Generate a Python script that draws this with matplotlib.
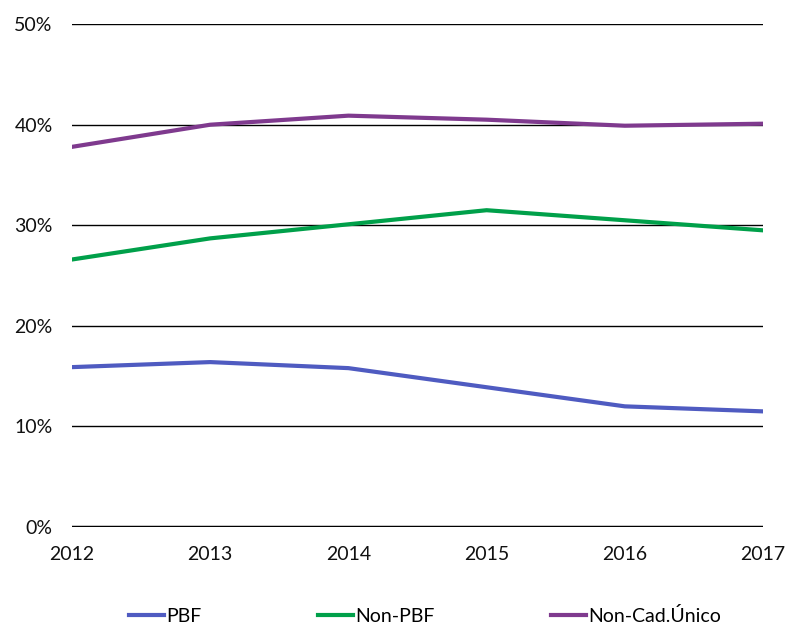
import matplotlib.pyplot as plt
from matplotlib.ticker import PercentFormatter

# --------------------------------------------------------
# DATA
# --------------------------------------------------------
years = [2012, 2013, 2014, 2015, 2016, 2017]
pbf = [15.9, 16.4, 15.8, 13.9, 12.0, 11.5]
non_pbf = [26.6, 28.7, 30.1, 31.5, 30.5, 29.5]
non_cad = [37.8, 40.0, 40.9, 40.5, 39.9, 40.1]

plt.rcParams["font.family"] = ["Lato", "DejaVu Sans"]

fig = plt.figure(figsize=(7.87, 6.35), dpi=100)
ax = fig.add_axes([0.0915, 0.170, 0.878, 0.792])

ax.plot(years, pbf, color="#4F5BC1", lw=3, label="PBF")
ax.plot(years, non_pbf, color="#00A04A", lw=3, label="Non-PBF")
ax.plot(years, non_cad, color="#7F3A8E", lw=3, label="Non-Cad.Único")

ax.set_xlim(2012, 2017)
ax.set_ylim(0, 50)
ax.set_yticks(range(0, 51, 10))
ax.yaxis.set_major_formatter(PercentFormatter(decimals=0))
ax.grid(axis="y", color="#000000", lw=1)
ax.set_axisbelow(True)
ax.axhline(0, color="black", lw=2.5, zorder=1)

for s in ax.spines.values():
    s.set_visible(False)
ax.tick_params(length=0, labelsize=14, colors="#111111")
ax.tick_params(axis="x", pad=14)
ax.tick_params(axis="y", pad=14)

fig.legend(loc="lower center", bbox_to_anchor=(0.54, -0.012), ncol=3, frameon=False,
           fontsize=14, handlelength=1.8, handletextpad=0.1, columnspacing=6.0)

fig.savefig("out.png")
